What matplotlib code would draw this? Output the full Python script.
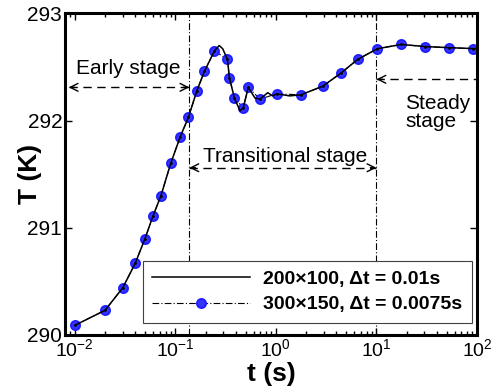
import matplotlib as mpl
mpl.use('Agg')
import matplotlib.pyplot as plt

plt.rcParams['font.family'] = ['Liberation Sans', 'DejaVu Sans']

# 200x100 grid, dt = 0.01 s (solid line)
line_t = [0.01, 0.02, 0.03, 0.04, 0.05, 0.06, 0.072, 0.09, 0.112, 0.135,
          0.164, 0.195, 0.245, 0.273, 0.296, 0.33, 0.345, 0.387, 0.44, 0.474,
          0.532, 0.62, 0.695, 0.83, 0.93, 1.02, 1.37, 1.77, 2.92, 4.4,
          6.5, 10.2, 17.7, 30.6, 52.8, 100]
line_T = [290.09, 290.23, 290.44, 290.67, 290.90, 291.11, 291.30, 291.60, 291.85, 292.03,
          292.28, 292.46, 292.65, 292.70, 292.67, 292.57, 292.40, 292.21, 292.09, 292.12,
          292.31, 292.21, 292.20, 292.26, 292.23, 292.25, 292.23, 292.24, 292.32, 292.44,
          292.57, 292.67, 292.71, 292.69, 292.68, 292.67]

# 300x150 grid, dt = 0.0075 s (markers)
mark_t = [0.01, 0.02, 0.03, 0.04, 0.05, 0.06, 0.072, 0.09, 0.112, 0.135,
          0.164, 0.195, 0.245, 0.33, 0.345, 0.387, 0.474, 0.532, 0.695, 1.02,
          1.77, 2.92, 4.4, 6.5, 10.2, 17.7, 30.6, 52.8, 91]
mark_T = [290.09, 290.23, 290.44, 290.67, 290.90, 291.11, 291.30, 291.60, 291.85, 292.03,
          292.28, 292.46, 292.65, 292.57, 292.40, 292.21, 292.12, 292.31, 292.20, 292.25,
          292.24, 292.32, 292.44, 292.57, 292.67, 292.71, 292.69, 292.68, 292.67]

labels = ['200\u00d7100, \u0394t = 0.01s', '300\u00d7150, \u0394t = 0.0075s']

# stage boundaries
t_early = 0.138
t_steady = 10.0

xticks = [1e-2, 1e-1, 1e0, 1e1, 1e2]
xticklabels = ['$\\mathregular{10^{-2}}$', '$\\mathregular{10^{-1}}$',
               '$\\mathregular{10^{0}}$', '$\\mathregular{10^{1}}$',
               '$\\mathregular{10^{2}}$']
yticks = [290, 291, 292, 293]

fig = plt.figure(figsize=(5, 3.88), dpi=100)
ax = fig.add_axes([0.13, 0.1366, 0.824, 0.829])

ax.plot(mark_t, mark_T, color='k', lw=0.8, ls=(0, (6, 2, 1, 2)), zorder=2,
        marker='o', ms=6.5, mfc='#3535ff', mec='#2020ff', mew=1.4, label=labels[1])
ax.plot(mark_t, mark_T, ls='none', marker='.', ms=2, color='k', zorder=4)
ax.plot(line_t, line_T, color='k', lw=1.1, zorder=3, label=labels[0])

# stage boundaries
for tb in [t_early, t_steady]:
    ax.axvline(tb, color='k', lw=0.8, ls=(0, (6, 2, 1, 2)), zorder=1)

def dashed_arrow(x0, x1, y, left=True, right=True):
    ax.plot([x0, x1], [y, y], color='k', lw=1.0, ls=(0, (6, 4)), zorder=2)
    head = dict(arrowstyle='->', lw=1.0, color='k', shrinkA=0, shrinkB=0,
                mutation_scale=14)
    if left:
        ax.annotate('', xy=(x0, y), xytext=(x0 * 1.15, y), arrowprops=head)
    if right:
        ax.annotate('', xy=(x1, y), xytext=(x1 / 1.15, y), arrowprops=head)

dashed_arrow(0.0087, t_early, 292.31)
dashed_arrow(t_early, t_steady, 291.56)
dashed_arrow(t_steady, 100, 292.385, right=False)

ax.text(0.0102, 292.43, 'Early stage', fontsize=15, ha='left', va='baseline')
ax.text(0.189, 291.617, 'Transitional stage', fontsize=15, ha='left', va='baseline')
ax.text(19.4, 292.25, 'Steady\nstage', fontsize=15, ha='left', va='top',
        linespacing=0.95)

ax.set_xscale('log')
ax.set_xlim(0.008, 100)
ax.set_ylim(290, 293)
ax.set_xticks(xticks)
ax.set_xticklabels(xticklabels)
ax.set_yticks(yticks)

ax.tick_params(which='both', direction='in', top=True, right=True, width=1)
ax.tick_params(which='major', length=5)
ax.tick_params(which='minor', length=3)
ax.tick_params(axis='x', labelsize=14, pad=2)
ax.tick_params(axis='y', labelsize=15, pad=2)
for s in ax.spines.values():
    s.set_linewidth(2.2)

ax.set_xlabel('t (s)', fontsize=19, fontweight='bold')
ax.set_ylabel('T (K)', fontsize=19, fontweight='bold')
ax.xaxis.set_label_coords(0.5, -0.083)
ax.yaxis.set_label_coords(-0.056, 0.5)

h, l = ax.get_legend_handles_labels()
leg = ax.legend(h[::-1], l[::-1], loc='lower right', bbox_to_anchor=(0.988, 0.037),
                borderaxespad=0, prop={'weight': 'bold', 'size': 14},
                handlelength=5.0, handletextpad=0.7, borderpad=0.5,
                labelspacing=0.4, fancybox=False, framealpha=1)
leg.get_frame().set_edgecolor('#404040')
leg.get_frame().set_linewidth(0.8)

fig.savefig('out.png', dpi=100)
